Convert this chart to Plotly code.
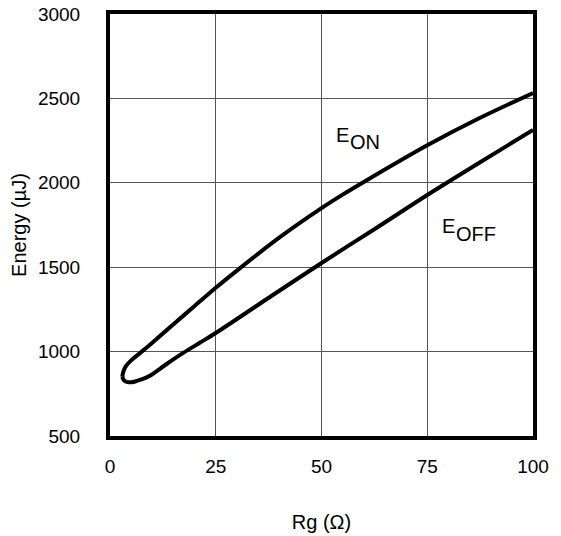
import plotly.graph_objects as go

# Data
eon_rg = [2.9, 3.2, 3.8, 5.0, 7.5, 10, 15, 20, 25, 30, 40, 50, 55, 60, 75, 87.5, 100]
eon_e = [851, 885, 915, 948, 1000, 1053, 1162, 1270, 1378, 1480, 1675, 1850, 1930, 2005, 2222, 2385, 2532]

eoff_rg = [2.9, 3.3, 4.2, 5.2, 6.2, 7.8, 9.3, 13.3, 17.5, 21.2, 25, 37, 50, 62.5, 75, 87.5, 100]
eoff_e = [851, 830, 819, 819, 825, 838, 855, 925, 995, 1052, 1110, 1310, 1525, 1725, 1928, 2122, 2313]

x_ticks = [0, 25, 50, 75, 100]
y_ticks = [500, 1000, 1500, 2000, 2500, 3000]

FONT = "Liberation Sans, Arial, sans-serif"

fig = go.Figure()
fig.add_trace(go.Scatter(x=eon_rg, y=eon_e, mode="lines", name="E_ON",
                         line=dict(color="black", width=4, shape="spline", smoothing=0.8)))
fig.add_trace(go.Scatter(x=eoff_rg, y=eoff_e, mode="lines", name="E_OFF",
                         line=dict(color="black", width=4, shape="spline", smoothing=0.8)))

ann_font = dict(family=FONT, size=20, color="black")
fig.add_annotation(x=56.7, y=2286, text="E", showarrow=False, xanchor="right", yanchor="middle",
                   font=ann_font, borderpad=0)
fig.add_annotation(x=56.5, y=2239, text="ON", showarrow=False, xanchor="left", yanchor="middle",
                   font=ann_font, borderpad=0)
fig.add_annotation(x=81.8, y=1747, text="E", showarrow=False, xanchor="right", yanchor="middle",
                   font=ann_font, borderpad=0)
fig.add_annotation(x=81.6, y=1697, text="OFF", showarrow=False, xanchor="left", yanchor="middle",
                   font=ann_font, borderpad=0)

fig.update_layout(
    width=561, height=536,
    margin=dict(l=110, r=28, t=14, b=100, autoexpand=False),
    plot_bgcolor="white", paper_bgcolor="white",
    showlegend=False,
    font=dict(family=FONT, size=19, color="black"),
)
fig.update_xaxes(
    range=[0, 100], tickvals=x_ticks, ticktext=[str(v) for v in x_ticks],
    showgrid=True, gridcolor="#555555", gridwidth=1,
    showline=True, linecolor="black", linewidth=4, mirror=True,
    ticks="", ticklabelstandoff=10, zeroline=False, automargin=False,
    ticklabeloverflow="allow",
    title=dict(text="Rg (Ω)", standoff=40, font=dict(size=20)),
)
fig.update_yaxes(
    range=[500, 3000], tickvals=y_ticks, ticktext=[str(v) for v in y_ticks],
    showgrid=True, gridcolor="#555555", gridwidth=1,
    showline=True, linecolor="black", linewidth=4, mirror=True,
    ticks="", ticklabelstandoff=22, zeroline=False, automargin=False,
    ticklabeloverflow="allow",
    title=dict(text="Energy (µJ)", standoff=7, font=dict(size=20)),
)

fig.write_html("out.html", config={"displayModeBar": False},
               post_script="document.body.style.margin='0';document.body.style.overflow='hidden';")
